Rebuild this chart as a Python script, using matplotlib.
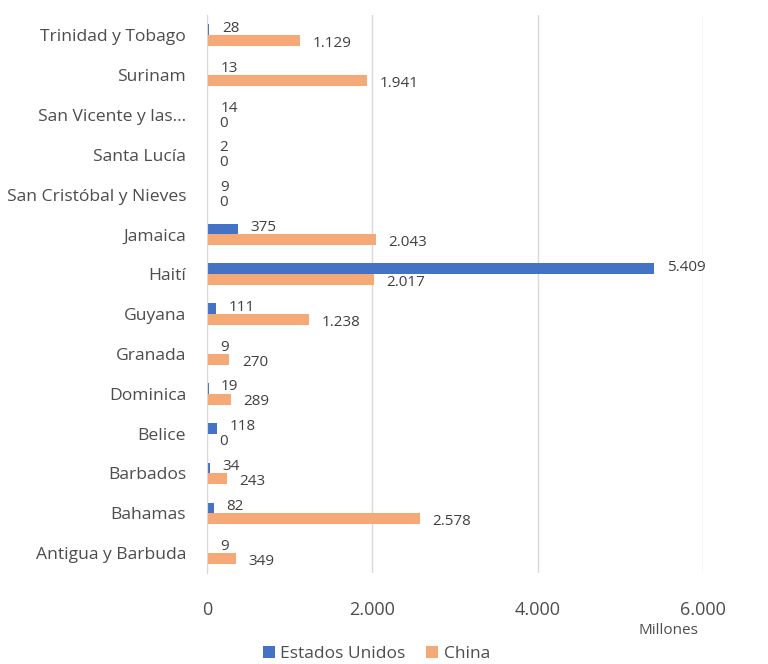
import numpy as np
import matplotlib.pyplot as plt
from matplotlib.ticker import FuncFormatter

plt.rcParams['font.family'] = ['Open Sans', 'DejaVu Sans']

paises = ['Trinidad y Tobago', 'Surinam', 'San Vicente y las...', 'Santa Lucía',
          'San Cristóbal y Nieves', 'Jamaica', 'Haití', 'Guyana', 'Granada',
          'Dominica', 'Belice', 'Barbados', 'Bahamas', 'Antigua y Barbuda']
estados_unidos = [28, 13, 14, 2, 9, 375, 5409, 111, 9, 19, 118, 34, 82, 9]
china = [1129, 1941, 0, 0, 0, 2043, 2017, 1238, 270, 289, 0, 243, 2578, 349]

azul = '#4472C4'
naranja = '#F4A976'
gris = '#4D4D4D'


def miles(v):
    return f"{v:,.0f}".replace(',', '.')


fig = plt.figure(figsize=(7.68, 6.64), dpi=100)
ax = fig.add_axes([0.2695, 0.137, 0.6458, 0.84])

y = np.arange(len(paises))
h = 0.27
b1 = ax.barh(y - h / 2, estados_unidos, height=h, color=azul, label='Estados Unidos', zorder=3)
b2 = ax.barh(y + h / 2, china, height=h, color=naranja, label='China', zorder=3)

for bar, v in zip(b1, estados_unidos):
    ax.annotate(miles(v), (bar.get_width(), bar.get_y() + bar.get_height() / 2),
                xytext=(9, 1), textcoords='offset points', va='center', ha='left',
                fontsize=11, color='#404040')
for bar, v in zip(b2, china):
    ax.annotate(miles(v), (bar.get_width(), bar.get_y() + bar.get_height() / 2),
                xytext=(9, -2), textcoords='offset points', va='center', ha='left',
                fontsize=11, color='#404040')

ax.set_ylim(len(paises) - 0.5, -0.5)
ax.set_yticks(y)
ax.set_yticklabels(paises)
ax.set_xlim(0, 6000)
ax.set_xticks([0, 2000, 4000, 6000])
ax.xaxis.set_major_formatter(FuncFormatter(lambda v, p: miles(v)))
ax.tick_params(axis='y', length=0, pad=15, labelsize=12.6, labelcolor=gris)
ax.tick_params(axis='x', length=0, pad=20, labelsize=13, labelcolor=gris)
ax.grid(axis='x', color='#D9D9D9', linewidth=1, zorder=0)
for s in ['top', 'right', 'bottom']:
    ax.spines[s].set_visible(False)
ax.spines['left'].set_color('#D9D9D9')
ax.spines['left'].set_zorder(4)

fig.text(0.87, 0.051, 'Millones', ha='center', va='center', fontsize=11, color=gris)

fig.legend(handles=[b1, b2], loc='center', bbox_to_anchor=(0.49, 0.015), ncol=2,
           frameon=False, fontsize=12.5, labelcolor=gris, handlelength=0.7,
           handleheight=0.7, handletextpad=0.3, columnspacing=1.2)

fig.savefig('out.png', dpi=100)
